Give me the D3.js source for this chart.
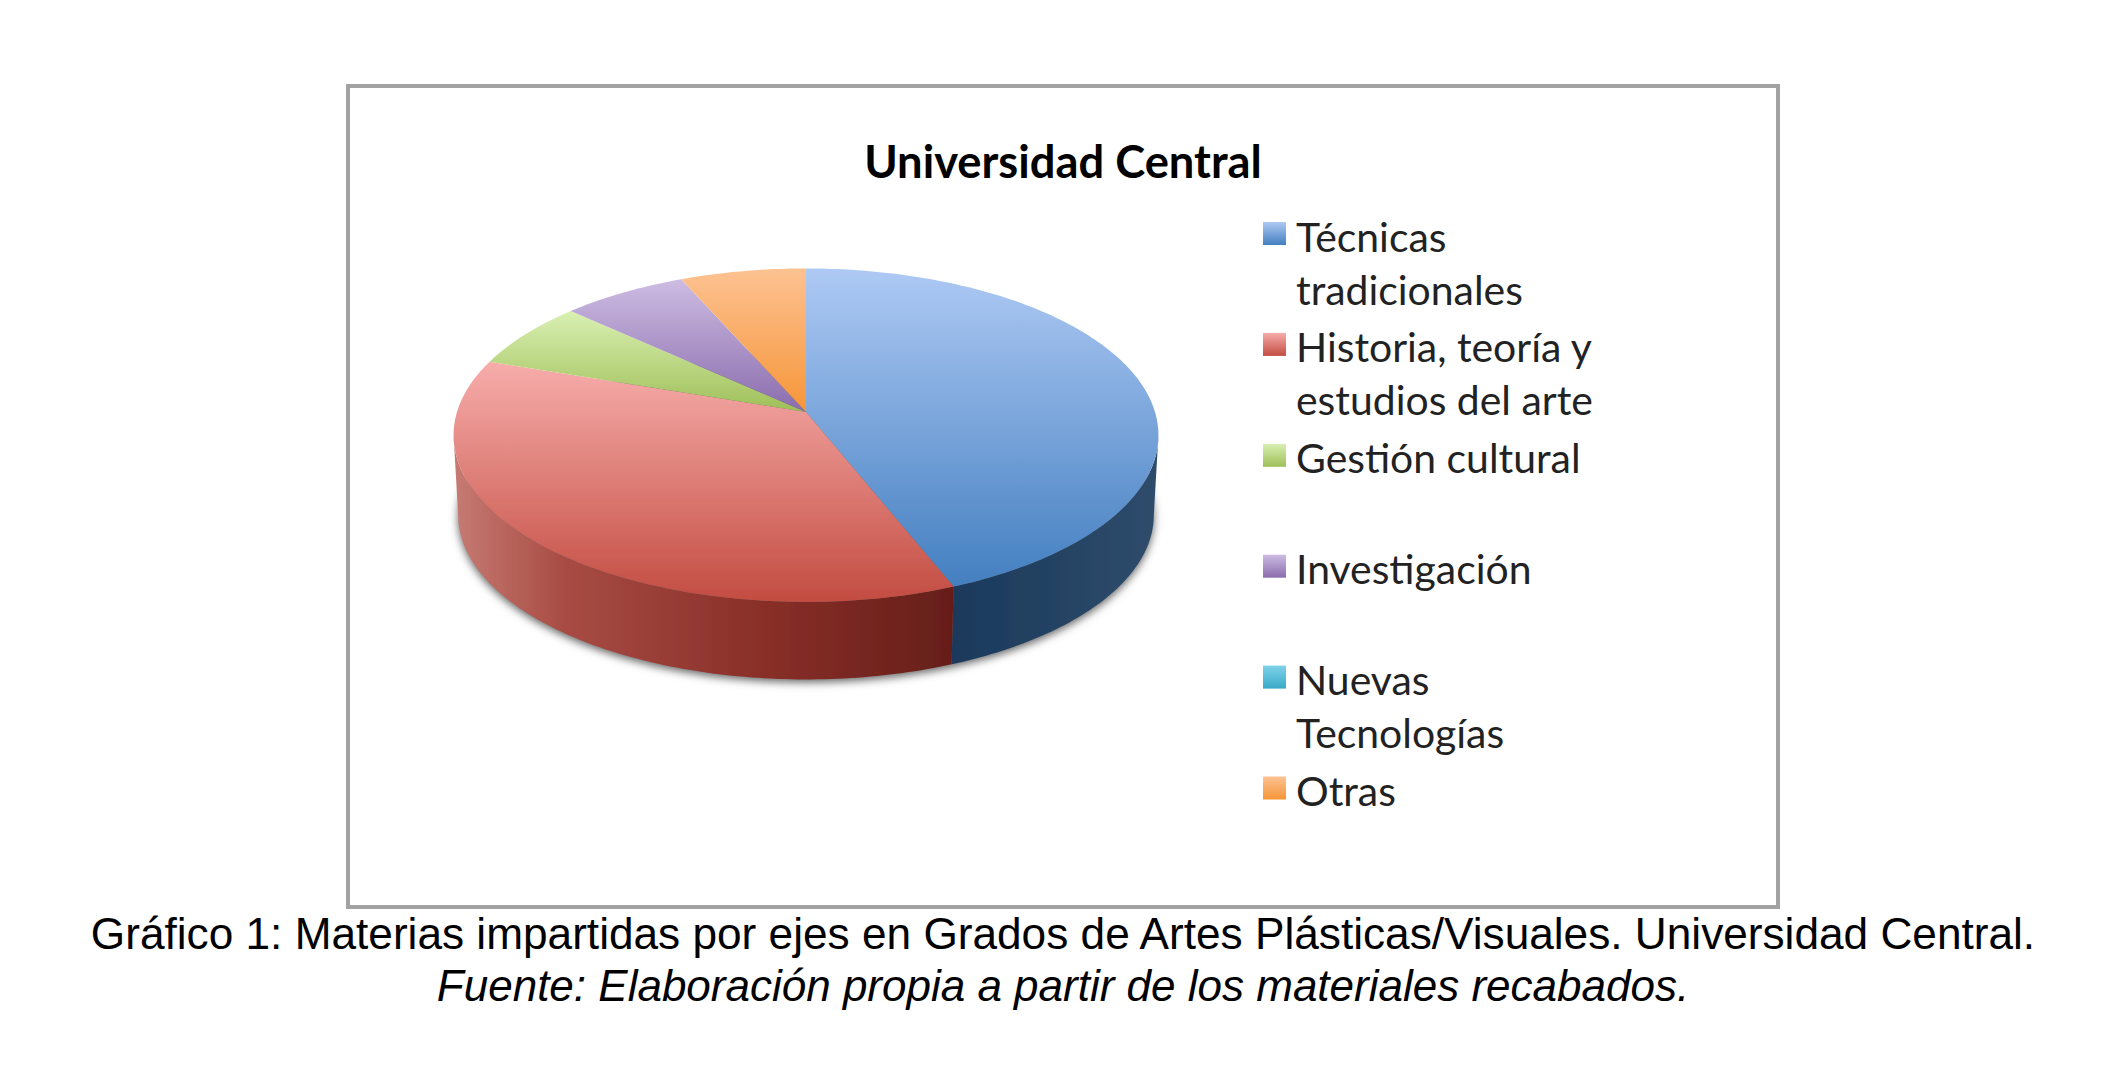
<!DOCTYPE html>
<html lang="es">
<head>
<meta charset="utf-8">
<title>Universidad Central</title>
<script src="https://cdnjs.cloudflare.com/ajax/libs/d3/7.8.5/d3.min.js"></script>
<style>
  html, body { margin: 0; padding: 0; background: #fff; }
  svg { display: block; }
</style>
</head>
<body>
<script>
// data (% of subjects)
var categories = ["Técnicas tradicionales", "Historia, teoría y estudios del arte", "Gestión cultural", "Investigación", "Nuevas Tecnologías", "Otras"];
var values = [44, 36.2, 6.6, 6.6, 0, 6.6];
var legendLines = [["Técnicas", "tradicionales"], ["Historia, teoría y", "estudios del arte"], ["Gestión cultural"], ["Investigación"], ["Nuevas", "Tecnologías"], ["Otras"]];
var lightColors = ["#aec9f4", "#f7adab", "#d9f0b2", "#cdbce2", "#7fd3e8", "#fdc292"];
var darkColors = ["#437fc0", "#c34c41", "#9fbf58", "#8a6cad", "#38a9c8", "#f69538"];
var sideLeft = ["#1a395b", "#c67b73"];
var sideRight = ["#2f4c6c", "#661e19"];
var chartTitle = "Universidad Central";
var captionLine = "Gráfico 1: Materias impartidas por ejes en Grados de Artes Plásticas/Visuales. Universidad Central.";
var sourceLine = "Fuente: Elaboración propia a partir de los materiales recabados.";

var w = 2126, h = 1067;
var svg = d3.select("body").append("svg").attr("width", w).attr("height", h);
var defs = svg.append("defs");

defs.append("filter").attr("id", "soft").append("feGaussianBlur").attr("stdDeviation", 0.7);
defs.append("filter").attr("id", "shadow")
    .attr("x", "-10%").attr("y", "-10%").attr("width", "120%").attr("height", "120%")
    .append("feGaussianBlur").attr("stdDeviation", 4);

// slice gradients, vertical
categories.forEach(function (c, i) {
  var g = defs.append("linearGradient").attr("id", "top" + i)
      .attr("x1", 0).attr("y1", 0).attr("x2", 0).attr("y2", 1);
  g.append("stop").attr("offset", "0%").attr("stop-color", lightColors[i]);
  g.append("stop").attr("offset", "100%").attr("stop-color", darkColors[i]);
});
// side gradients, horizontal
[0, 1].forEach(function (i) {
  var g = defs.append("linearGradient").attr("id", "side" + i)
      .attr("x1", 0).attr("y1", 0).attr("x2", 1).attr("y2", 0);
  g.append("stop").attr("offset", "0%").attr("stop-color", sideLeft[i]);
  if (i == 1) {
    g.append("stop").attr("offset", "22%").attr("stop-color", "#a84c44");
    g.append("stop").attr("offset", "60%").attr("stop-color", "#8a3029");
  }
  g.append("stop").attr("offset", "100%").attr("stop-color", sideRight[i]);
});

// frame
svg.append("rect")
    .attr("x", 348).attr("y", 86).attr("width", 1430).attr("height", 821)
    .attr("fill", "#fff").attr("stroke", "#a2a2a2").attr("stroke-width", 4);

// the pie is a disc seen in perspective: k pulls the near edge down
var cx = 806, cy = 412;
var k = 0.139, depth = 80, bottomScale = 0.987;
var xScale = d3.scaleLinear().domain([-1, 1]).range([cx - 349, cx + 349]);
var yScale = d3.scaleLinear().domain([-1, 1]).range([cy - 163.5, cy + 163.5]);

function project(a, s, dy) {
  var u = Math.sin(a), v = -Math.cos(a), d = 1 - k * v;
  return [cx + (xScale(u / d) - cx) * s, cy + (yScale(v / d) - cy) * s + dy];
}
function arcPoints(a0, a1, s, dy) {
  var n = Math.max(2, Math.ceil((a1 - a0) * 60));
  return d3.range(n + 1).map(function (i) { return project(a0 + (a1 - a0) * i / n, s, dy); });
}
var line = d3.line();

var arcs = d3.pie().sort(null).value(function (d) { return d; })(values);

var pie = svg.append("g");

// shadow under the disc
pie.append("path")
    .attr("d", line(arcPoints(0, 2 * Math.PI, bottomScale, depth + 3)) + "Z")
    .attr("fill", "#666").attr("filter", "url(#shadow)");

var body = pie.append("g").attr("filter", "url(#soft)");

// sides: only the part facing us, between the two tangent angles
var rightEdge = Math.PI - Math.acos(k), leftEdge = Math.PI + Math.acos(k);
arcs.forEach(function (d, i) {
  var a0 = Math.max(d.startAngle, rightEdge), a1 = Math.min(d.endAngle, leftEdge);
  if (a0 >= a1) return;
  var pts = arcPoints(a0, a1, 1, 0).concat(arcPoints(a0, a1, bottomScale, depth).reverse());
  body.append("path").attr("d", line(pts) + "Z").attr("fill", "url(#side" + i + ")");
});

// top slices
arcs.forEach(function (d, i) {
  if (d.endAngle <= d.startAngle) return;
  var pts = [[cx, cy]].concat(arcPoints(d.startAngle, d.endAngle, 1, 0));
  body.append("path").attr("d", line(pts) + "Z").attr("fill", "url(#top" + i + ")");
});

// title
svg.append("text").text(chartTitle)
    .attr("x", 1063).attr("y", 177.5)
    .attr("text-anchor", "middle")
    .attr("font-family", "Lato, 'Open Sans', sans-serif")
    .attr("font-weight", "bold").attr("font-size", 45.3)
    .attr("fill", "#000");

// legend
var legendY = d3.scalePoint().domain(categories).range([233.5, 788]);
var legend = svg.selectAll(".legend").data(categories).enter().append("g")
    .attr("class", "legend")
    .attr("transform", function (d) { return "translate(1263," + legendY(d) + ")"; });
legend.append("rect")
    .attr("x", 0).attr("y", -11.5).attr("width", 23).attr("height", 23)
    .attr("fill", function (d, i) { return "url(#top" + i + ")"; });
legend.each(function (d, i) {
  d3.select(this).selectAll("text").data(legendLines[i]).enter().append("text")
      .text(function (t) { return t; })
      .attr("x", 33)
      .attr("y", function (t, j) { return 18 + j * 53; })
      .attr("font-family", "Lato, 'Open Sans', sans-serif")
      .attr("font-size", 40.9)
      .attr("fill", "#222");
});

// caption below the frame
svg.append("text").text(captionLine)
    .attr("x", 1063).attr("y", 949).attr("text-anchor", "middle")
    .attr("font-family", "'Liberation Sans', Arial, sans-serif")
    .attr("font-size", 44.2).attr("fill", "#000");
svg.append("text").text(sourceLine)
    .attr("x", 1063).attr("y", 1000.5).attr("text-anchor", "middle")
    .attr("font-family", "'Liberation Sans', Arial, sans-serif")
    .attr("font-style", "italic")
    .attr("font-size", 44).attr("fill", "#000");
</script>
</body>
</html>
